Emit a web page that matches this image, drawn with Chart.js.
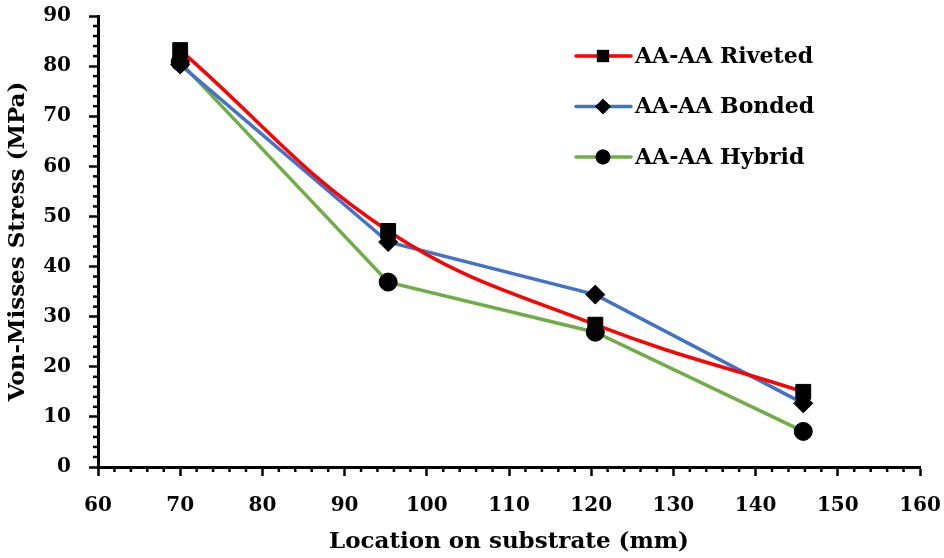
<!DOCTYPE html>
<html>
<head>
<meta charset="utf-8">
<script src="https://cdn.jsdelivr.net/npm/chart.js@4"></script>
<style>
  html, body { margin: 0; padding: 0; background: #fff; }
  #wrap { width: 944px; height: 558px; }
</style>
</head>
<body>
<div id="wrap"><canvas id="myChart"></canvas></div>
<script>
const locations = [70, 95.3, 120.5, 145.8];
const riveted = [83.2, 47.1, 28.4, 15.0];
const bonded = [80.3, 44.9, 34.4, 12.7];
const hybrid = [80.8, 36.9, 26.9, 7.1];
const seriesNames = ['AA-AA Riveted', 'AA-AA Bonded', 'AA-AA Hybrid'];

const serif = "'DejaVu Serif', 'Liberation Serif', serif";

function pts(vals) {
  return locations.map((x, i) => ({ x: x, y: vals[i] }));
}

// minor ticks every 2 units + legend with line and marker
const extras = {
  id: 'extras',
  afterDraw(chart) {
    const ctx = chart.ctx;
    const xs = chart.scales.x, ys = chart.scales.y;
    ctx.save();
    ctx.strokeStyle = '#000';
    ctx.lineWidth = 2.5;
    for (let v = 60; v <= 160; v += 2) {
      if (v % 10 === 0) continue;
      const px = xs.getPixelForValue(v);
      ctx.beginPath();
      ctx.moveTo(px, xs.top);
      ctx.lineTo(px, xs.top + 5);
      ctx.stroke();
    }
    for (let v = 0; v <= 90; v += 2) {
      if (v % 10 === 0) continue;
      const py = ys.getPixelForValue(v);
      ctx.beginPath();
      ctx.moveTo(ys.right, py);
      ctx.lineTo(ys.right - 5, py);
      ctx.stroke();
    }

    // legend
    const area = chart.chartArea;
    const x0 = area.left + 478;
    let y = area.top + 40;
    chart.data.datasets.forEach(ds => {
      ctx.strokeStyle = ds.borderColor;
      ctx.lineWidth = 3.5;
      ctx.lineCap = 'round';
      ctx.beginPath();
      ctx.moveTo(x0, y);
      ctx.lineTo(x0 + 55, y);
      ctx.stroke();
      Chart.helpers.drawPoint(ctx, {
        pointStyle: ds.pointStyle,
        radius: ds.pointRadius * 0.82,
        borderWidth: 0
      }, x0 + 27, y);
      ctx.fillStyle = '#000';
      ctx.fill();
      ctx.font = 'bold 22px ' + serif;
      ctx.textBaseline = 'middle';
      ctx.textAlign = 'left';
      ctx.fillText(ds.label, x0 + 59, y + 1);
      y += 50.5;
    });
    ctx.restore();
  }
};

const data = {
  datasets: [
    {
      label: seriesNames[0],
      data: pts(riveted),
      borderColor: 'rgb(255, 0, 0)',
      backgroundColor: '#000',
      pointBackgroundColor: '#000',
      pointBorderColor: '#000',
      pointStyle: 'rect',
      pointRadius: 10.5,
      borderWidth: 3.5,
      tension: 0.4
    },
    {
      label: seriesNames[1],
      data: pts(bonded),
      borderColor: 'rgb(68, 114, 196)',
      backgroundColor: '#000',
      pointBackgroundColor: '#000',
      pointBorderColor: '#000',
      pointStyle: 'rectRot',
      pointRadius: 9.5,
      borderWidth: 3.5,
      tension: 0
    },
    {
      label: seriesNames[2],
      data: pts(hybrid),
      borderColor: 'rgb(112, 173, 71)',
      backgroundColor: '#000',
      pointBackgroundColor: '#000',
      pointBorderColor: '#000',
      pointStyle: 'circle',
      pointRadius: 9,
      borderWidth: 3.5,
      tension: 0
    }
  ]
};

const config = {
  type: 'line',
  data: data,
  plugins: [extras],
  options: {
    responsive: true,
    maintainAspectRatio: false,
    animation: false,
    layout: { padding: { top: 16, right: 24, left: 0, bottom: 0 } },
    plugins: {
      legend: { display: false },
      tooltip: { enabled: false }
    },
    elements: { point: { pointBorderWidth: 1 } },
    scales: {
      x: {
        type: 'linear',
        min: 60,
        max: 160,
        ticks: { stepSize: 10, color: '#000', padding: 18, font: { family: serif, size: 20, weight: 'bold' } },
        grid: { drawOnChartArea: false, tickLength: 9, tickWidth: 2.5, tickColor: '#000' },
        border: { color: '#000', width: 3 },
        title: { display: true, text: 'Location on substrate (mm)', color: '#000', padding: { top: 0, bottom: 2 }, font: { family: serif, size: 23, weight: 'bold' } },
        afterFit: s => { s.height = 91; s.paddingLeft = 0; s.paddingRight = 0; }
      },
      y: {
        min: 0,
        max: 90,
        ticks: { stepSize: 10, color: '#000', padding: 18, font: { family: serif, size: 20, weight: 'bold' } },
        grid: { drawOnChartArea: false, tickLength: 9, tickWidth: 2.5, tickColor: '#000' },
        border: { color: '#000', width: 3 },
        title: { display: true, text: 'Von-Misses Stress (MPa)', color: '#000', padding: { top: 4, bottom: 0 }, font: { family: serif, size: 23, weight: 'bold' } },
        afterFit: s => { s.width = 98; s.paddingTop = 0; s.paddingBottom = 0; }
      }
    }
  }
};

const myChart = new Chart(document.getElementById('myChart'), config);
</script>
</body>
</html>
